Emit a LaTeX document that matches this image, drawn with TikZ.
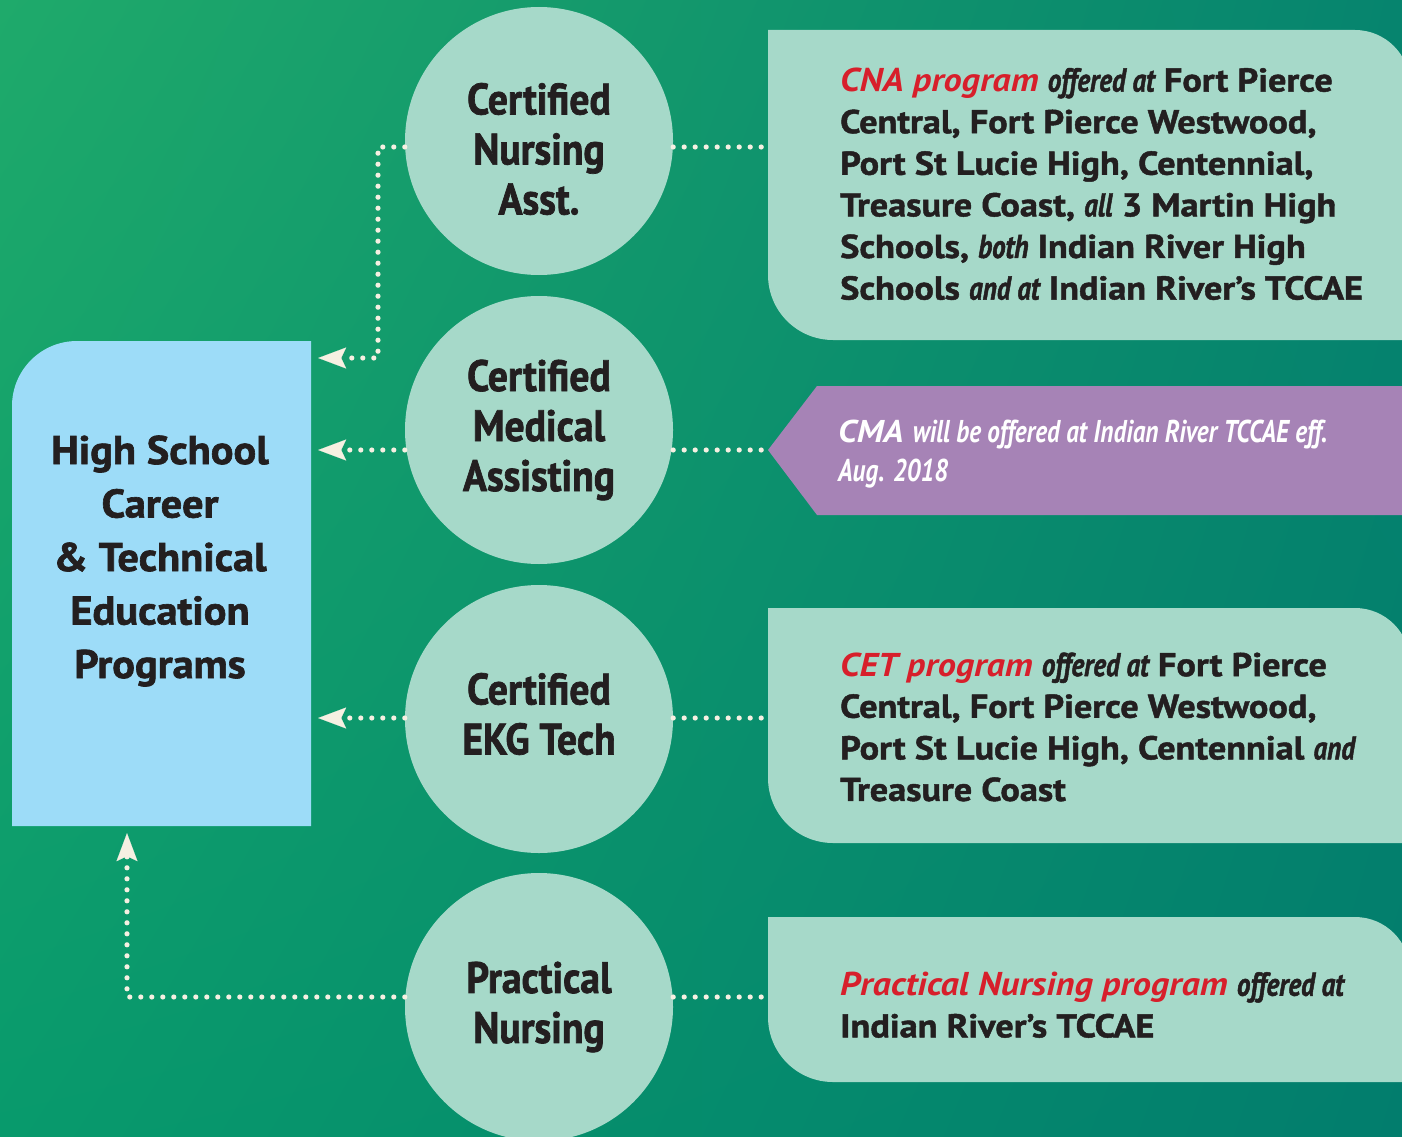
\documentclass[tikz,border=0pt]{standalone}
\usepackage{fontspec}
\setmainfont{PT Sans}[BoldFeatures={FakeBold=1.4}]
\newfontfamily\condfont{PT Sans}[FakeStretch=0.90,BoldFeatures={FakeBold=1.6}]
\newfontfamily\condmed{PT Sans}[FakeStretch=0.82,FakeBold=1.4]
\newfontfamily\condsemi{PT Sans}[FakeStretch=0.80]
\newfontfamily\hsfont{PT Sans}[FakeStretch=1.06,BoldFeatures={FakeBold=1.6}]
\newfontfamily\infofont{PT Sans}[FakeStretch=1.10,BoldFeatures={FakeBold=1.4}]
\usetikzlibrary{arrows.meta,shadings}
\definecolor{bgTL}{HTML}{1FAA6B}
\definecolor{bgTR}{HTML}{06846E}
\definecolor{bgBL}{HTML}{089A6C}
\definecolor{bgBR}{HTML}{027D6D}
\definecolor{hsblue}{HTML}{9DDCF8}
\definecolor{mint}{HTML}{A6D9C9}
\definecolor{lilac}{HTML}{A683B6}
\definecolor{cream}{HTML}{F6F0E2}
\definecolor{ink}{HTML}{231F20}
\definecolor{cnared}{HTML}{D71F2B}
\newcommand\redit[1]{{\color{cnared}\bfseries\itshape #1}}
\newcommand\cit[1]{{\condmed\itshape #1}}
\newcommand\csit[1]{{\condsemi\bfseries\itshape #1}}
\tikzset{
  frame/.style={rectangle,inner sep=0pt,draw=none},
  circ/.style={circle,fill=mint,minimum size=268pt,inner sep=0pt},
  circtext/.style={align=center,text=ink,inner sep=0pt,
    font=\condfont\bfseries\fontsize{44}{50}\selectfont},
  hstext/.style={align=center,text=ink,font=\hsfont\bfseries\fontsize{40}{53.5}\selectfont},
  infotext/.style={align=left,anchor=west,text=ink,inner sep=0pt,font=\infofont\bfseries\fontsize{33}{41.6}\selectfont},
  dots/.style={draw=cream,line width=5.2pt,line cap=round,dash pattern=on 0pt off 11pt},
  dotarrow/.style={dots,shorten >=7pt,-{Stealth[length=28pt,width=21pt,inset=5pt,line width=0.1pt,fill=cream]}}
}
\begin{document}
\begin{tikzpicture}[x=1pt,y=-1pt]
\useasboundingbox (0,0) rectangle (1402,1137);
\clip (0,0) rectangle (1402,1137);
\shade[upper left=bgTL,upper right=bgTR,lower left=bgBL,lower right=bgBR] (0,0) rectangle (1402,1137);

% left box
\node[frame,minimum width=299pt,minimum height=485pt] (hs) at (161.5,583.5) {};
\fill[hsblue] (12,826) -- (12,406) arc[start angle=180,end angle=270,radius=65] -- (311,341) -- (311,826) -- cycle;
\node[hstext] (hst) at (160,561) {High School\\Career\\\& Technical\\Education\\Programs};

% right boxes
\node[frame,minimum width=642pt,minimum height=310pt] (b1) at (1089,185) {};
\fill[mint] (768,30) -- (1355,30) arc[start angle=270,end angle=360,radius=55] -- (1410,340) -- (833,340) arc[start angle=90,end angle=180,radius=65] -- cycle;
\node[frame,minimum width=642pt,minimum height=235pt] (b3) at (1089,725.5) {};
\fill[mint] (768,608) -- (1355,608) arc[start angle=270,end angle=360,radius=55] -- (1410,843) -- (833,843) arc[start angle=90,end angle=180,radius=65] -- cycle;
\node[frame,minimum width=642pt,minimum height=165pt] (b4) at (1089,999.5) {};
\fill[mint] (768,917) -- (1355,917) arc[start angle=270,end angle=360,radius=55] -- (1410,1082) -- (833,1082) arc[start angle=90,end angle=180,radius=65] -- cycle;
\coordinate (cmatip) at (768,450);
\fill[lilac] (cmatip) -- (817,386) -- (1410,386) -- (1410,515) -- (817,515) -- cycle;

% circles
\node[circ] (c1) at (539,141) {};
\node[circ] (c2) at (539,430) {};
\node[circ] (c3) at (539,719) {};
\node[circ] (c4) at (539,1007) {};
\node[circtext] (ct1) at ([yshift=-8pt]c1.center) {Certified\\Nursing\\Asst.};
\node[circtext] (ct2) at (c2.center) {Certified\\Medical\\Assisting};
\node[circtext] (ct3) at ([yshift=5pt]c3.center) {Certified\\EKG Tech};
\node[circtext] (ct4) at (c4.center) {Practical\\Nursing};

% texts in boxes
\node[infotext] (t1) at (840,184) {\redit{CNA program} \cit{offered at} Fort Pierce\\Central, Fort Pierce Westwood,\\Port St Lucie High, Centennial,\\Treasure Coast, \cit{all} 3 Martin High\\Schools, \cit{both} Indian River High\\Schools \cit{and at} Indian River’s TCCAE};
\node[infotext,text=white,font=\infofont\fontsize{31.5}{39}\selectfont] (t2) at (838,454) {{\bfseries\itshape CMA} \csit{will be offered at Indian River TCCAE eff.}\\\csit{Aug. 2018}};
\node[infotext] (t3) at (840,727) {\redit{CET program} \cit{offered at} Fort Pierce\\Central, Fort Pierce Westwood,\\Port St Lucie High, Centennial \cit{and}\\Treasure Coast};
\node[infotext] (t4) at (840,1005) {\redit{Practical Nursing program} \cit{offered at}\\Indian River’s TCCAE};

% connectors
\coordinate (l1) at (539,147);
\coordinate (l2) at (539,450);
\coordinate (l3) at (539,718);
\coordinate (l4) at (539,997);
\coordinate (bend1) at (378,358);
\coordinate (bend4) at (127,997);
\draw[dots] (l1 -| c1.east) -- (l1 -| b1.west);
\draw[dotarrow] (l1 -| c1.west) -| (bend1) -- (bend1 -| hs.east);
\draw[dots] (l2 -| c2.east) -- (cmatip);
\draw[dotarrow] (l2 -| c2.west) -- (l2 -| hs.east);
\draw[dots] (l3 -| c3.east) -- (l3 -| b3.west);
\draw[dotarrow] (l3 -| c3.west) -- (l3 -| hs.east);
\draw[dots] (l4 -| c4.east) -- (l4 -| b4.west);
\draw[dotarrow] (l4 -| c4.west) -- (bend4) -- (bend4 |- hs.south);
\end{tikzpicture}
\end{document}
